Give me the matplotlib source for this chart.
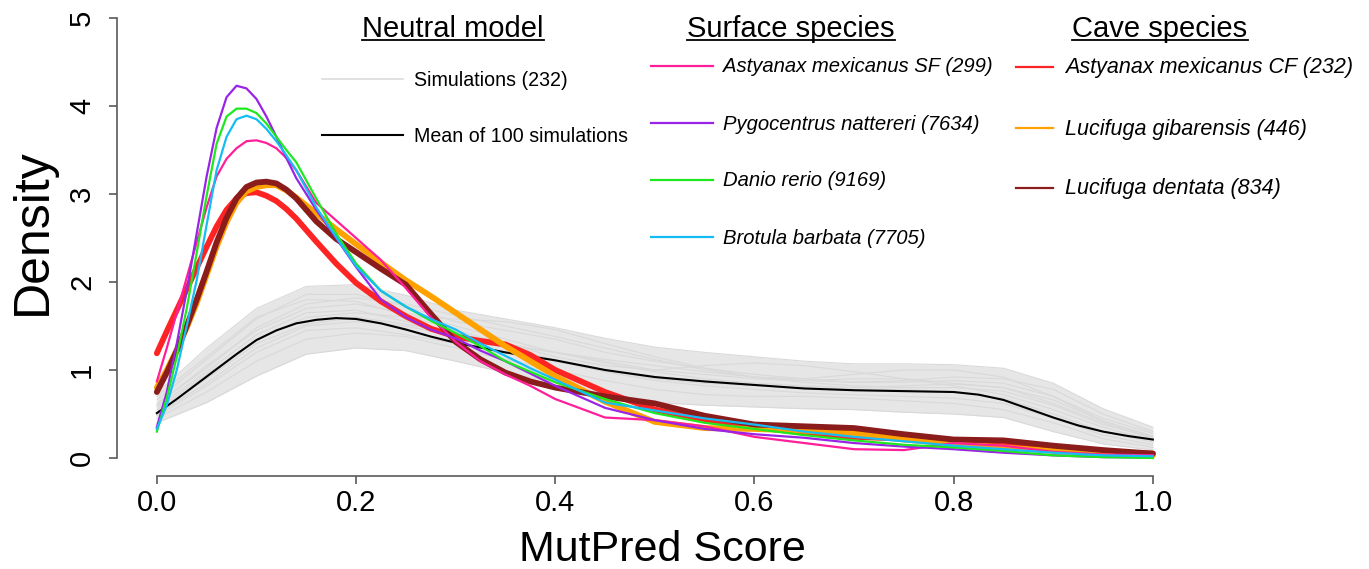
import numpy as np
import matplotlib.pyplot as plt
from matplotlib.lines import Line2D

plt.rcParams['font.family'] = ['Liberation Sans', 'DejaVu Sans']

# density curves, read at these scores
score = [0, .01, .02, .03, .04, .05, .06, .07, .08, .09, .10, .11, .12, .13, .14, .16, .18, .20,
         .225, .25, .275, .30, .325, .35, .375, .40, .45, .50, .55, .60, .65, .70, .75, .80,
         .85, .90, .95, 1.0]

# surface species
amex_sf = [0.87, 1.25, 1.65, 2.05, 2.45, 2.85, 3.20, 3.40, 3.52, 3.60, 3.61, 3.58, 3.52, 3.41, 3.27, 2.90, 2.70, 2.50,
           2.25, 1.93, 1.60, 1.32, 1.10, 0.95, 0.82, 0.67, 0.46, 0.43, 0.36, 0.24, 0.17, 0.10, 0.09, 0.17,
           0.14, 0.07, 0.04, 0.03]
pyg_nat = [0.35, 0.75, 1.30, 1.90, 2.55, 3.20, 3.75, 4.10, 4.23, 4.20, 4.08, 3.88, 3.65, 3.41, 3.18, 2.82, 2.50, 2.17,
           1.80, 1.60, 1.46, 1.36, 1.22, 1.10, 0.96, 0.82, 0.57, 0.43, 0.33, 0.27, 0.23, 0.17, 0.13, 0.10,
           0.06, 0.03, 0.01, 0.005]
dan_rer = [0.30, 0.68, 1.15, 1.70, 2.33, 2.98, 3.57, 3.88, 3.97, 3.97, 3.92, 3.80, 3.65, 3.50, 3.36, 2.95, 2.55, 2.21,
           1.90, 1.72, 1.56, 1.42, 1.27, 1.10, 0.98, 0.86, 0.67, 0.51, 0.40, 0.33, 0.26, 0.20, 0.15, 0.12,
           0.08, 0.03, 0.01, 0.0]
bro_bar = [0.33, 0.60, 1.00, 1.50, 2.02, 2.65, 3.27, 3.65, 3.85, 3.89, 3.85, 3.74, 3.60, 3.44, 3.27, 2.85, 2.51, 2.18,
           1.90, 1.72, 1.58, 1.46, 1.30, 1.16, 1.02, 0.89, 0.63, 0.54, 0.45, 0.38, 0.30, 0.24, 0.19, 0.14,
           0.10, 0.06, 0.03, 0.02]

# cave species
amex_cf = [1.19, 1.44, 1.68, 1.92, 2.16, 2.40, 2.63, 2.82, 2.95, 3.01, 3.02, 2.98, 2.92, 2.83, 2.72, 2.46, 2.21, 1.99,
           1.78, 1.61, 1.47, 1.38, 1.33, 1.29, 1.17, 1.00, 0.75, 0.55, 0.44, 0.35, 0.29, 0.24, 0.22, 0.20,
           0.15, 0.10, 0.07, 0.05]
luc_gib = [0.80, 1.00, 1.23, 1.48, 1.76, 2.08, 2.40, 2.68, 2.90, 3.03, 3.08, 3.10, 3.10, 3.04, 2.96, 2.78, 2.60, 2.43,
           2.22, 2.02, 1.84, 1.65, 1.46, 1.27, 1.10, 0.93, 0.64, 0.41, 0.34, 0.33, 0.31, 0.28, 0.21, 0.16,
           0.12, 0.08, 0.05, 0.03]
luc_den = [0.75, 0.97, 1.22, 1.50, 1.80, 2.12, 2.45, 2.73, 2.95, 3.08, 3.13, 3.14, 3.12, 3.05, 2.95, 2.69, 2.49, 2.34,
           2.15, 1.97, 1.64, 1.32, 1.12, 0.97, 0.87, 0.80, 0.70, 0.62, 0.48, 0.38, 0.36, 0.34, 0.27, 0.21,
           0.20, 0.14, 0.09, 0.05]

# mean of the neutral simulations
mean_score = [0, .02, .04, .06, .08, .10, .12, .14, .16, .18, .20, .225, .25, .275, .30, .35, .40, .45, .50,
              .55, .60, .65, .70, .75, .80, .825, .85, .875, .90, .925, .95, .975, 1.0]
mean_sim = [0.51, 0.67, 0.84, 1.01, 1.18, 1.34, 1.45, 1.53, 1.57, 1.59, 1.58, 1.53, 1.46, 1.38, 1.31, 1.20, 1.11, 1.00, 0.92,
            0.87, 0.83, 0.79, 0.77, 0.76, 0.75, 0.72, 0.66, 0.56, 0.46, 0.37, 0.30, 0.25, 0.21]

# neutral model simulations (every 0.05)
sim_score = [0, .05, .10, .15, .20, .25, .30, .35, .40, .45, .50,
             .55, .60, .65, .70, .75, .80, .85, .90, .95, 1.0]
sims = [
    [0.74, 1.25, 1.70, 1.95, 1.97, 1.85, 1.68, 1.58, 1.48, 1.36, 1.26, 1.20, 1.15, 1.10, 1.07, 1.07, 1.06, 1.02, 0.85, 0.56, 0.35],
    [0.40, 0.63, 0.93, 1.18, 1.25, 1.22, 1.10, 0.97, 0.86, 0.72, 0.63, 0.60, 0.58, 0.56, 0.55, 0.52, 0.50, 0.46, 0.30, 0.16, 0.09],
    [0.60, 1.05, 1.45, 1.70, 1.75, 1.65, 1.50, 1.35, 1.20, 1.10, 1.00, 0.95, 0.90, 0.88, 0.90, 0.90, 0.85, 0.80, 0.62, 0.40, 0.22],
    [0.50, 0.85, 1.25, 1.50, 1.55, 1.50, 1.38, 1.25, 1.12, 1.00, 0.90, 0.85, 0.82, 0.80, 0.78, 0.78, 0.75, 0.68, 0.50, 0.30, 0.18],
    [0.66, 1.12, 1.58, 1.86, 1.86, 1.72, 1.55, 1.45, 1.35, 1.20, 1.10, 1.02, 0.95, 0.90, 0.86, 0.86, 0.88, 0.85, 0.70, 0.45, 0.28],
    [0.45, 0.75, 1.10, 1.35, 1.42, 1.38, 1.25, 1.12, 1.00, 0.88, 0.78, 0.72, 0.70, 0.70, 0.68, 0.65, 0.62, 0.55, 0.40, 0.22, 0.12],
    [0.55, 0.95, 1.35, 1.60, 1.65, 1.60, 1.58, 1.55, 1.46, 1.30, 1.15, 1.02, 0.92, 0.90, 0.95, 1.00, 1.00, 0.92, 0.70, 0.42, 0.25],
    [0.70, 1.15, 1.60, 1.80, 1.78, 1.62, 1.45, 1.30, 1.15, 1.05, 1.00, 1.05, 1.08, 1.05, 0.98, 0.90, 0.82, 0.72, 0.55, 0.35, 0.20],
    [0.58, 0.98, 1.40, 1.65, 1.68, 1.55, 1.40, 1.28, 1.20, 1.12, 1.05, 0.98, 0.92, 0.86, 0.82, 0.80, 0.80, 0.76, 0.60, 0.38, 0.24],
    [0.48, 0.82, 1.20, 1.45, 1.48, 1.40, 1.30, 1.20, 1.10, 0.98, 0.88, 0.82, 0.78, 0.74, 0.72, 0.70, 0.68, 0.62, 0.45, 0.26, 0.15],
    [0.62, 1.02, 1.48, 1.75, 1.82, 1.75, 1.62, 1.50, 1.38, 1.25, 1.12, 1.00, 0.92, 0.88, 0.86, 0.88, 0.92, 0.90, 0.78, 0.50, 0.30],
    [0.52, 0.90, 1.30, 1.52, 1.60, 1.52, 1.42, 1.30, 1.20, 1.08, 0.98, 0.90, 0.85, 0.82, 0.80, 0.82, 0.84, 0.80, 0.66, 0.42, 0.24],
]

surface = [
    ('Astyanax mexicanus SF (299)', amex_sf, '#ff1f9a'),
    ('Pygocentrus nattereri (7634)', pyg_nat, '#9a24e6'),
    ('Danio rerio (9169)', dan_rer, '#1ee81e'),
    ('Brotula barbata (7705)', bro_bar, '#14bdf5'),
]
cave = [
    ('Astyanax mexicanus CF (232)', amex_cf, '#ff2424'),
    ('Lucifuga gibarensis (446)', luc_gib, '#ffa200'),
    ('Lucifuga dentata (834)', luc_den, '#8b1c1c'),
]

W, H = 1369, 569
fig = plt.figure(figsize=(W / 100, H / 100), dpi=100)


def fx(px):
    return px / W


def fy(py):
    return 1 - py / H


ax = fig.add_axes([fx(117), fy(475.6), fx(1192.7) - fx(117), fy(0.4) - fy(475.6)])
ax.set_xlim(-0.04, 1.04)
ax.set_ylim(-0.2, 5.2)

sims = np.array(sims)
ax.fill_between(sim_score, sims.min(axis=0), sims.max(axis=0), color='#e6e6e6', lw=0, zorder=1)
for s in sims:
    ax.plot(sim_score, s, color='#d9d9d9', lw=0.8, zorder=2)
ax.plot(mean_score, mean_sim, color='black', lw=1.5, zorder=3)

for name, vals, col in cave:
    ax.plot(score, vals, color=col, lw=4.2, solid_capstyle='round', solid_joinstyle='round', zorder=4)
for name, vals, col in surface:
    ax.plot(score, vals, color=col, lw=1.6, solid_joinstyle='round', zorder=5)

# R-like axes
for side in ['top', 'right']:
    ax.spines[side].set_visible(False)
ax.spines['left'].set_bounds(0, 5)
ax.spines['bottom'].set_bounds(0, 1)
for side in ['left', 'bottom']:
    ax.spines[side].set_color('#5a5a5a')
    ax.spines[side].set_linewidth(1.2)
ax.set_xticks([0, 0.2, 0.4, 0.6, 0.8, 1.0])
ax.set_xticklabels(['0.0', '0.2', '0.4', '0.6', '0.8', '1.0'])
ax.set_yticks([0, 1, 2, 3, 4, 5])
ax.tick_params(length=6, width=1.2, color='#5a5a5a', labelsize=21)
ax.tick_params(axis='x', pad=4)
ax.tick_params(axis='y', pad=9)
for lab in ax.get_yticklabels():
    lab.set_rotation(90)
    lab.set_va('center')

fig.text(fx(46), fy(232), 'Density', fontsize=36, rotation=90, rotation_mode='anchor',
         ha='center', va='baseline')
fig.text(fx(662), fy(561), 'MutPred Score', fontsize=31, ha='center', va='baseline')

# legend block
titles = []
for label, cx in [('Neutral model', 453), ('Surface species', 791), ('Cave species', 1160)]:
    titles.append(fig.text(fx(cx), fy(37), label, fontsize=21, ha='center', va='baseline'))

fig.add_artist(Line2D([fx(322), fx(403)], [fy(79), fy(79)], color='#dcdcdc', lw=1.2))
fig.add_artist(Line2D([fx(322), fx(403)], [fy(135), fy(135)], color='black', lw=1.5))
fig.text(fx(414), fy(80), 'Simulations (232)', fontsize=14.1, va='center')
fig.text(fx(414), fy(136), 'Mean of 100 simulations', fontsize=14.1, va='center')

for (name, vals, col), py in zip(surface, [66, 123, 180, 237]):
    fig.add_artist(Line2D([fx(651), fx(713)], [fy(py), fy(py)], color=col, lw=1.6))
    fig.text(fx(723), fy(py + 1), name, fontsize=14.6, style='italic', va='center')
for (name, vals, col), py in zip(cave, [67, 128, 188]):
    fig.add_artist(Line2D([fx(1016), fx(1053)], [fy(py), fy(py)], color=col, lw=1.6))
    fig.text(fx(1065), fy(py + 1), name, fontsize=15.5, style='italic', va='center')

# underline the group titles
fig.canvas.draw()
for t in titles:
    bb = t.get_window_extent()
    fig.add_artist(Line2D([bb.x0 / W, bb.x1 / W], [fy(40), fy(40)], color='black', lw=1.3))

fig.savefig('out.png', dpi=100)
